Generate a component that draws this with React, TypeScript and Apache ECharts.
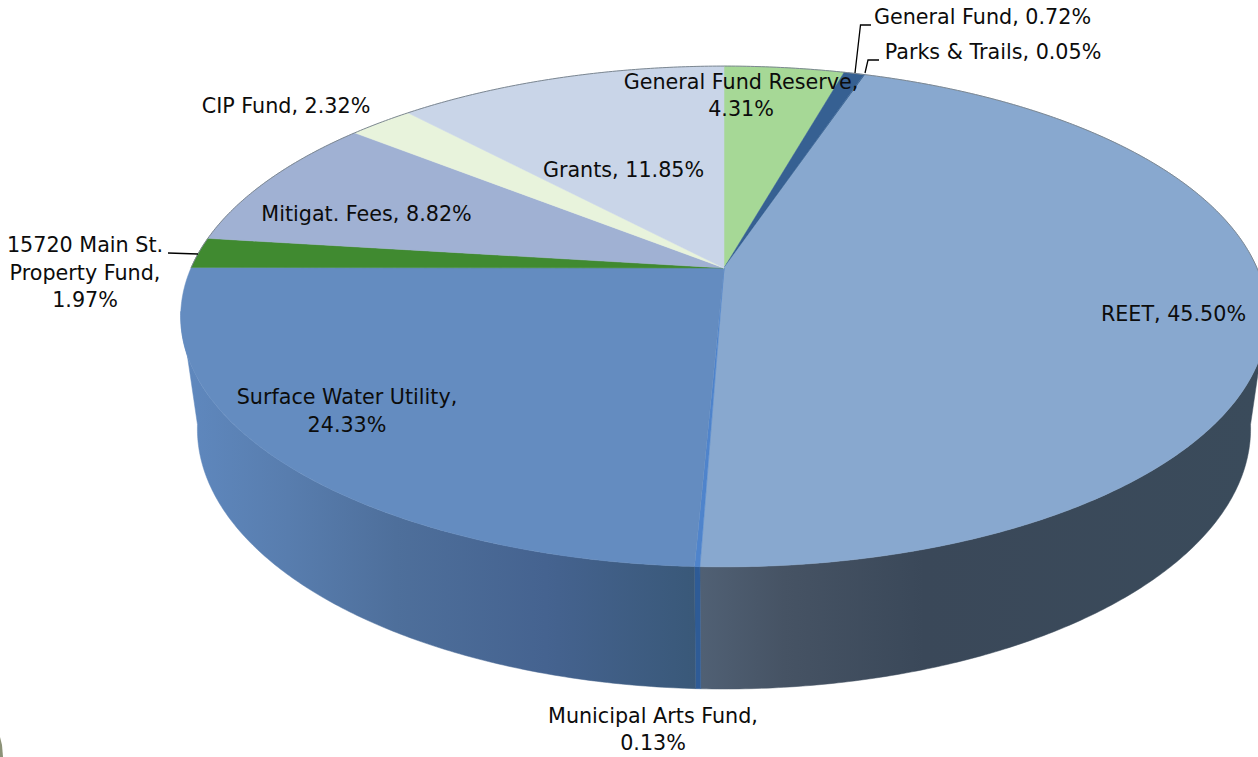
import React, { useEffect, useRef } from "react";
import * as echarts from "echarts";

const categories = [
  "General Fund Reserve",
  "General Fund",
  "Parks & Trails",
  "REET",
  "Municipal Arts Fund",
  "Surface Water Utility",
  "15720 Main St. Property Fund",
  "Mitigat. Fees",
  "CIP Fund",
  "Grants",
];
const shares = [4.31, 0.72, 0.05, 45.5, 0.13, 24.33, 1.97, 8.82, 2.32, 11.85];

const topColors = ["#A6D896", "#366092", "#3A6596", "#88A8CF", "#4F84CC", "#648CC0", "#408A30", "#A0B1D3", "#E8F3DC", "#C9D5E8"];

const wallStops: Record<string, [number, number, [number, string][]]> = {
  "REET": [701, 1258, [[0, "#506074"], [0.15, "#465364"], [0.4, "#3A4859"], [1, "#3A4B5B"]]],
  "Municipal Arts Fund": [690, 705, [[0, "#2E5B96"], [1, "#2E5B96"]]],
  "Surface Water Utility": [185, 700, [[0, "#5F88BE"], [0.2, "#587DAE"], [0.41, "#4E6F9B"], [0.7, "#456390"], [1, "#395878"]]],
};

const labelLayout: { idx: number; x: number; y: number; lines?: string }[] = [
  { idx: 0, x: 741, y: 95.5, lines: "General Fund Reserve,\n4.31%" },
  { idx: 1, x: 982.5, y: 17 },
  { idx: 2, x: 993, y: 52 },
  { idx: 3, x: 1173.5, y: 314 },
  { idx: 4, x: 653, y: 729.5, lines: "Municipal Arts Fund,\n0.13%" },
  { idx: 5, x: 347, y: 411, lines: "Surface Water Utility,\n24.33%" },
  { idx: 6, x: 85, y: 272.5, lines: "15720 Main St.\nProperty Fund,\n1.97%" },
  { idx: 7, x: 366.5, y: 214 },
  { idx: 8, x: 286, y: 106 },
  { idx: 9, x: 623.5, y: 170 },
];

const leaders = [
  [[855, 73], [860.5, 25], [871, 25]],
  [[865, 73], [868, 60], [879, 60]],
  [[168, 253], [198, 254]],
];

const TOP = { cx: 724, cy: 268, a: 533, b: 241, k: 0.1936 };
const BOTTOM = { cx: 724, cy: 379.5, a: 517, b: 250.7, k: 0.19 };
const WALL_MIN = 100;
const WALL_MAX = 260;

function project(p: typeof TOP, deg: number): number[] {
  const t = (deg * Math.PI) / 180;
  const u = Math.sin(t);
  const v = -Math.cos(t);
  const d = 1 - p.k * v;
  return [p.cx + (p.a * u) / d, p.cy + (p.b * v) / d];
}

function arc(p: typeof TOP, from: number, to: number): number[][] {
  const n = Math.max(2, Math.ceil(Math.abs(to - from) / 0.5));
  const pts: number[][] = [];
  for (let i = 0; i <= n; i++) pts.push(project(p, from + ((to - from) * i) / n));
  return pts;
}

const ranges: number[][] = [];
let running = 0;
for (const s of shares) {
  ranges.push([running, running + s]);
  running += s;
}
const toDeg = (pct: number) => (pct / 100) * 360;

function renderTop(params: any, api: any) {
  const i = params.dataIndex;
  const a0 = toDeg(api.value(0));
  const a1 = toDeg(api.value(1));
  const points = [[TOP.cx, TOP.cy], ...arc(TOP, a0, a1)];
  const children: any[] = [
    {
      type: "polygon",
      shape: { points },
      style: { fill: topColors[i], stroke: topColors[i], lineWidth: 0.5 },
    },
  ];
  const rim: number[][][] = [];
  if (a0 < 92) rim.push(arc(TOP, a0, Math.min(a1, 92)));
  if (a1 > 270) rim.push(arc(TOP, Math.max(a0, 270), a1));
  for (const r of rim) {
    children.push({
      type: "polyline",
      shape: { points: r },
      style: { fill: "none", stroke: "#7C8791", lineWidth: 1 },
    });
  }
  return { type: "group", children };
}

function renderWall(params: any, api: any) {
  const i = params.dataIndex;
  const a0 = Math.max(toDeg(api.value(0)), WALL_MIN);
  const a1 = Math.min(toDeg(api.value(1)), WALL_MAX);
  const spec = wallStops[categories[i]];
  if (a1 <= a0 || !spec) return { type: "group", children: [] };
  const points = [...arc(TOP, a0, a1), ...arc(BOTTOM, a1, a0)];
  const fill = {
    type: "linear",
    x: spec[0],
    y: 0,
    x2: spec[1],
    y2: 0,
    global: true,
    colorStops: spec[2].map(([offset, color]) => ({ offset, color })),
  };
  return { type: "polygon", shape: { points }, style: { fill, stroke: fill, lineWidth: 0.5 } };
}

const FONT = '"DejaVu Sans", sans-serif';

export default function App() {
  const ref = useRef<HTMLDivElement>(null);
  useEffect(() => {
    const chart = echarts.init(ref.current!, undefined, { renderer: "svg" });
    const data = ranges.map((r, i) => ({ name: categories[i], value: r }));
    chart.setOption({
      animation: false,
      backgroundColor: "#FFFFFF",
      tooltip: { show: false },
      series: [
        { type: "custom", name: "walls", coordinateSystem: "none", silent: true, z: 1, renderItem: renderWall, data },
        { type: "custom", name: "tops", coordinateSystem: "none", silent: true, z: 2, renderItem: renderTop, data },
      ],
      graphic: [
        ...leaders.map((points) => ({
          type: "polyline",
          z: 5,
          silent: true,
          shape: { points },
          style: { fill: "none", stroke: "#000000", lineWidth: 1.3 },
        })),
        ...labelLayout.map((l) => ({
          type: "text",
          z: 6,
          silent: true,
          x: l.x,
          y: l.y,
          style: {
            text: l.lines ?? `${categories[l.idx]}, ${shares[l.idx].toFixed(2)}%`,
            font: `20.7px ${FONT}`,
            fill: "#0C0C0C",
            align: "center",
            verticalAlign: "middle",
            lineHeight: 27.5,
          },
        })),
        {
          type: "polygon",
          z: 4,
          silent: true,
          shape: { points: [[0, 737], [2, 745], [3, 757], [0, 757]] },
          style: { fill: "#8C9278" },
        },
      ],
    });
    return () => chart.dispose();
  }, []);
  return (
    <div style={{ position: "fixed", left: 0, top: 0, width: 1258, height: 757 }}>
      <div ref={ref} style={{ width: 1258, height: 757 }} />
    </div>
  );
}
